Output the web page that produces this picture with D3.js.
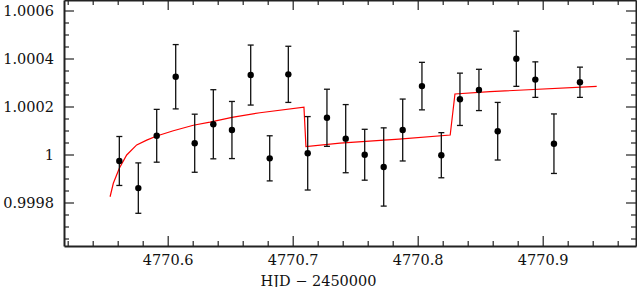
<!DOCTYPE html>
<html>
<head>
<meta charset="utf-8">
<script src="https://cdn.jsdelivr.net/npm/d3@7"></script>
<style>
	body { margin: 0; background: #fff; }
	svg { display: block; }
	.axis text { font-family: "DejaVu Serif", serif; font-size: 14.5px; fill: #111; }
	.axis path { stroke: #222; stroke-width: 2; }
	.axis line { stroke: #222; stroke-width: 1.2; }
	.errbar { stroke: #111; stroke-width: 1.3; }
	.dot { fill: #000; }
	.model { fill: none; stroke: #f00; stroke-width: 1.2; }
	.xlabel { font-family: "DejaVu Serif", serif; font-size: 14.5px; fill: #111; }
</style>
</head>
<body>
<svg id="chart" width="637" height="287"></svg>
<script>
// observations (HJD - 2450000), relative flux, 1-sigma error
var obsTime = [
	4770.5613, 4770.5765, 4770.5912, 4770.6064, 4770.6216,
	4770.6365, 4770.6514, 4770.6664, 4770.6816, 4770.6965,
	4770.7120, 4770.7274, 4770.7424, 4770.7576, 4770.7728,
	4770.7880, 4770.8034, 4770.8189, 4770.8338, 4770.8490,
	4770.8640, 4770.8789, 4770.8941, 4770.9090, 4770.9298
];
var obsFlux = [
	0.999973, 0.999860, 1.000078, 1.000324, 1.000047,
	1.000126, 1.000102, 1.000331, 0.999984, 1.000334,
	1.000005, 1.000153, 1.000066, 0.999999, 0.999948,
	1.000102, 1.000285, 0.999997, 1.000230, 1.000269,
	1.000097, 1.000399, 1.000312, 1.000045, 1.000301
];
var obsErr = [
	0.000102, 0.000105, 0.000110, 0.000134, 0.000121,
	0.000144, 0.000119, 0.000125, 0.000094, 0.000117,
	0.000153, 0.000119, 0.000142, 0.000106, 0.000163,
	0.000129, 0.000099, 0.000094, 0.000109, 0.000086,
	0.000120, 0.000115, 0.000074, 0.000124, 0.000063
];

// model curve
var modelTime = [
	4770.5539, 4770.5565, 4770.5613, 4770.5672, 4770.5752,
	4770.5832, 4770.5912, 4770.6045, 4770.6205, 4770.6338,
	4770.6514, 4770.6738, 4770.7090, 4770.7106, 4770.7378,
	4770.7850, 4770.8260, 4770.8298, 4770.8578, 4770.9432
];
var modelFlux = [
	0.999824, 0.999880, 0.999943, 0.999998, 1.000040,
	1.000060, 1.000077, 1.000099, 1.000122, 1.000135,
	1.000155, 1.000174, 1.000197, 1.000033, 1.000047,
	1.000064, 1.000081, 1.000252, 1.000262, 1.000284
];

var xMajor = [4770.6, 4770.7, 4770.8, 4770.9];
var xMajorLabels = ["4770.6", "4770.7", "4770.8", "4770.9"];
var xMinor = [4770.52, 4770.54, 4770.56, 4770.58, 4770.62, 4770.64, 4770.66, 4770.68,
	4770.72, 4770.74, 4770.76, 4770.78, 4770.82, 4770.84, 4770.86, 4770.88,
	4770.92, 4770.94, 4770.96];
var yMajor = [0.9998, 1.0, 1.0002, 1.0004, 1.0006];
var yMajorLabels = ["0.9998", "1", "1.0002", "1.0004", "1.0006"];
var yMinor = [0.99965, 0.99970, 0.99975, 0.99985, 0.99990, 0.99995,
	1.00005, 1.00010, 1.00015, 1.00025, 1.00030, 1.00035,
	1.00045, 1.00050, 1.00055, 1.00065];

var plot = { left : 64, right : 636, top : 0, bottom : 246 };

var svg = d3.select("#chart");

var x = d3.scaleLinear()
	.domain([4770.51704, 4770.97464])
	.range([plot.left, plot.right]);

var y = d3.scaleLinear()
	.domain([0.99961875, 1.00064375])
	.range([plot.bottom, plot.top]);

function fmt(values, labels)
{
	return function (d) {
		return labels[values.indexOf(d)];
	};
}

// bottom axis
svg.append("g").attr("class", "axis")
.attr("transform", "translate(0," + plot.bottom + ")")
.call(d3.axisBottom(x).tickValues(xMajor).tickFormat(fmt(xMajor, xMajorLabels))
	.tickSize(-10).tickSizeOuter(0).tickPadding(9));
svg.append("g").attr("class", "axis minor")
.attr("transform", "translate(0," + plot.bottom + ")")
.call(d3.axisBottom(x).tickValues(xMinor).tickFormat("").tickSize(-5).tickSizeOuter(0));

// top axis (ticks only)
svg.append("g").attr("class", "axis")
.attr("transform", "translate(0," + plot.top + ")")
.call(d3.axisTop(x).tickValues(xMajor).tickFormat("").tickSize(-10).tickSizeOuter(0));
svg.append("g").attr("class", "axis minor")
.attr("transform", "translate(0," + plot.top + ")")
.call(d3.axisTop(x).tickValues(xMinor).tickFormat("").tickSize(-5).tickSizeOuter(0));

// left axis
svg.append("g").attr("class", "axis")
.attr("transform", "translate(" + plot.left + ",0)")
.call(d3.axisLeft(y).tickValues(yMajor).tickFormat(fmt(yMajor, yMajorLabels))
	.tickSize(-10).tickSizeOuter(0).tickPadding(10));
svg.append("g").attr("class", "axis minor")
.attr("transform", "translate(" + plot.left + ",0)")
.call(d3.axisLeft(y).tickValues(yMinor).tickFormat("").tickSize(-5).tickSizeOuter(0));

// right axis (ticks only)
svg.append("g").attr("class", "axis")
.attr("transform", "translate(" + plot.right + ",0)")
.call(d3.axisRight(y).tickValues(yMajor).tickFormat("").tickSize(-10).tickSizeOuter(0));
svg.append("g").attr("class", "axis minor")
.attr("transform", "translate(" + plot.right + ",0)")
.call(d3.axisRight(y).tickValues(yMinor).tickFormat("").tickSize(-5).tickSizeOuter(0));

svg.selectAll(".minor path").remove();
svg.selectAll(".axis text").attr("fill", "#111");

// model
var model = d3.range(modelTime.length).map(function (i) {
	return { t : modelTime[i], f : modelFlux[i] };
});
svg.append("path")
.datum(model)
.attr("class", "model")
.attr("d", d3.line()
	.x(function (d) { return x(d.t); })
	.y(function (d) { return y(d.f); }));

// observations
var obs = d3.range(obsTime.length).map(function (i) {
	return { t : obsTime[i], f : obsFlux[i], e : obsErr[i] };
});

var pts = svg.append("g").selectAll("g.obs")
.data(obs)
.enter().append("g")
.attr("class", "obs");

pts.append("line").attr("class", "errbar")
.attr("x1", function (d) { return x(d.t); })
.attr("x2", function (d) { return x(d.t); })
.attr("y1", function (d) { return y(d.f - d.e); })
.attr("y2", function (d) { return y(d.f + d.e); });

[-1, 1].forEach(function (s) {
	pts.append("line").attr("class", "errbar")
	.attr("x1", function (d) { return x(d.t) - 3; })
	.attr("x2", function (d) { return x(d.t) + 3; })
	.attr("y1", function (d) { return y(d.f + s * d.e); })
	.attr("y2", function (d) { return y(d.f + s * d.e); });
});

pts.append("circle").attr("class", "dot")
.attr("cx", function (d) { return x(d.t); })
.attr("cy", function (d) { return y(d.f); })
.attr("r", 3.2);

// axis title
svg.append("text")
.attr("class", "xlabel")
.attr("x", 318.5)
.attr("y", 285.5)
.attr("text-anchor", "middle")
.text("HJD \u2212 2450000");
</script>
</body>
</html>
